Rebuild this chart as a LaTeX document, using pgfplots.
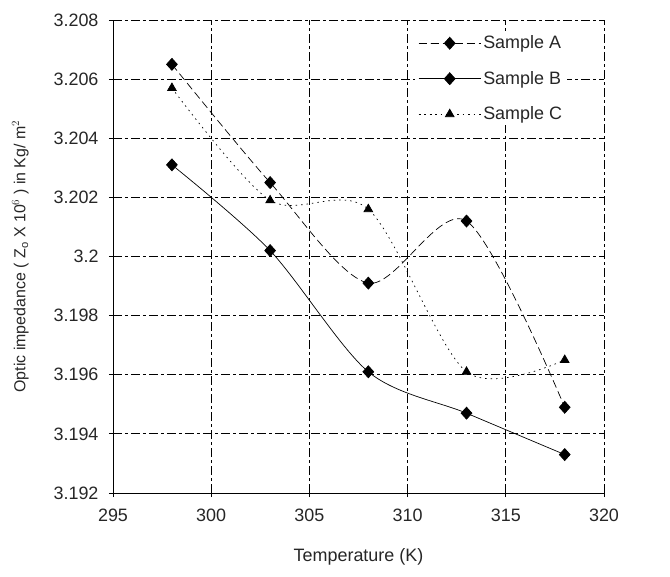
\documentclass[border=0pt]{standalone}
\usepackage{pgfplots}
\pgfplotsset{compat=1.18}
\usepackage{fontspec}
\setmainfont{Liberation Sans}

\begin{document}
\begin{tikzpicture}
\begin{axis}[
    scale only axis,
    width=491bp, height=473bp,
    xmin=295, xmax=320, ymin=3.192, ymax=3.208,
    xtick={295,300,...,320},
    ytick={3.192,3.194,...,3.2081},
    yticklabels={3.192,3.194,3.196,3.198,3.2,3.202,3.204,3.206,3.208},
    axis x line*=bottom, axis y line*=left,
    axis line style={black, line width=0.8pt, -},
    tick align=center, major tick length=8bp,
    tick style={black, line width=0.8pt},
    grid=major,
    major grid style={black, line width=0.9pt, dash pattern=on 9bp off 3bp on 3bp off 3bp},
    /pgf/number format/assume math mode=true,
    ticklabel style={font=\fontsize{18}{20}\selectfont, text=black!85},
    xticklabel style={yshift=-8bp},
    yticklabel style={xshift=-7bp},
    xlabel={Temperature (K)},
    xlabel style={font=\fontsize{18}{20}\selectfont, text=black!85, yshift=-20bp},
    ylabel={Optic impedance ( Z$_{\mathrm{o}}$ X 10$^{6}$ ) in Kg/ m$^{2}$},
    ylabel style={font=\fontsize{16}{18}\selectfont, text=black!85, yshift=18bp},
    legend style={at={(0.925,0.975)}, anchor=north east, draw=none, fill=white,
        font=\fontsize{18}{20}\selectfont, text=black!85, row sep=17bp},
    legend cell align=left,
    legend image code/.code={
        \draw[mark repeat=2,mark phase=2,#1] plot coordinates {(0cm,0cm) (1.1cm,0cm) (2.2cm,0cm)};
    },
]
\addplot[black, line width=0.7pt, dash pattern=on 8bp off 4bp, smooth, tension=0.5,
    mark=diamond*, mark size=6bp, mark options={solid, fill=black, xscale=1.2}]
    coordinates {(298,3.2065) (303,3.2025) (308,3.1991) (313,3.2012) (318,3.1949)};
\addlegendentry{Sample A}
\addplot[black, line width=0.7pt, smooth, tension=0.5,
    mark=diamond*, mark size=6bp, mark options={solid, fill=black, xscale=1.2}]
    coordinates {(298,3.2031) (303,3.2002) (308,3.1961) (313,3.1947) (318,3.1933)};
\addlegendentry{Sample B}
\addplot[black, line width=0.7pt, dash pattern=on 1.5bp off 4bp, smooth, tension=0.5,
    mark=triangle*, mark size=5bp, mark options={solid, fill=black}]
    coordinates {(298,3.2057) (303,3.2019) (308,3.2016) (313,3.1961) (318,3.1965)};
\addlegendentry{Sample C}
\end{axis}
\path (current axis.south west) ++(-113bp,-84bp) rectangle ++(670bp,577bp);
\end{tikzpicture}
\end{document}
